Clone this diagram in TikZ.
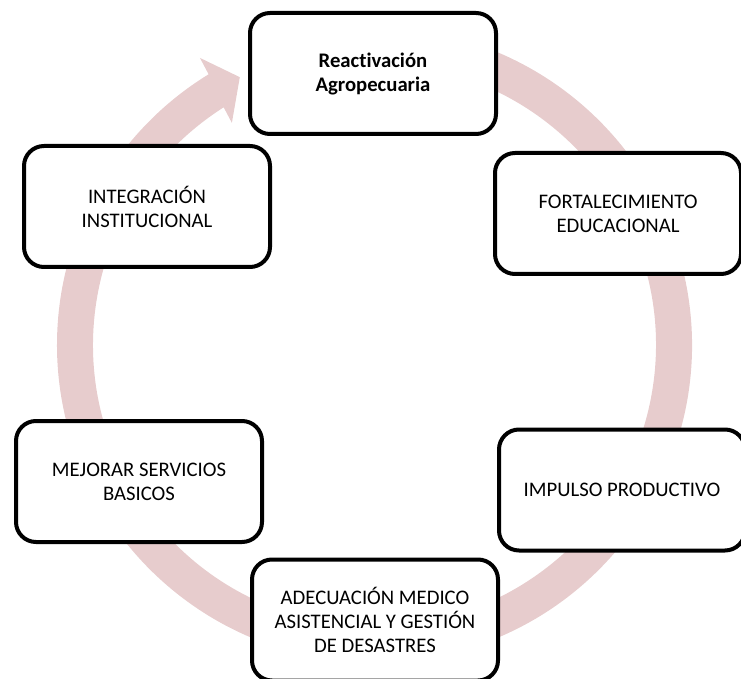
\documentclass[tikz,border=0pt]{standalone}
\usepackage{fontspec}
\setmainfont{Carlito}[RawFeature={-liga}]
\definecolor{ringpink}{RGB}{231,204,205}
\begin{document}
\begin{tikzpicture}[x=1pt,y=1pt,
  stagebox/.style={draw=black, line width=4pt, fill=white, rounded corners=20pt,
    minimum width=246pt, minimum height=121pt, inner sep=0pt, align=center,
    font=\fontsize{20.7}{24}\selectfont},
  ringfill/.style={fill=ringpink}]
\useasboundingbox (0,0) rectangle (741,678);
\clip (0,0) rectangle (741,678);
% circular arrow ring
\begin{scope}[shift={(374.5,333)}]
  \fill[ringfill] (100:317.5) arc[start angle=100, end angle=-238.5, radius=317.5]
    -- (-238.7:336) -- (-243.3:299.8) -- (-237.3:264)
    -- (-237.6:281.5) arc[start angle=-237.6, end angle=100, radius=281.5] -- cycle;
\end{scope}
% stages
\node[stagebox] (reac) at (373,604.5) {\textbf{Reactivación}\\\textbf{Agropecuaria}};
\node[stagebox] (fort) at (618,464.5) {FORTALECIMIENTO\\EDUCACIONAL};
\node[stagebox] (impu) at (622,188) {IMPULSO PRODUCTIVO};
\node[stagebox] (adec) at (375,58) {ADECUACIÓN MEDICO\\ASISTENCIAL Y GESTIÓN\\DE DESASTRES};
\node[stagebox] (mejo) at (139,196.5) {MEJORAR SERVICIOS\\BASICOS};
\node[stagebox] (inte) at (147,471.5) {INTEGRACIÓN\\INSTITUCIONAL};
\end{tikzpicture}
\end{document}
